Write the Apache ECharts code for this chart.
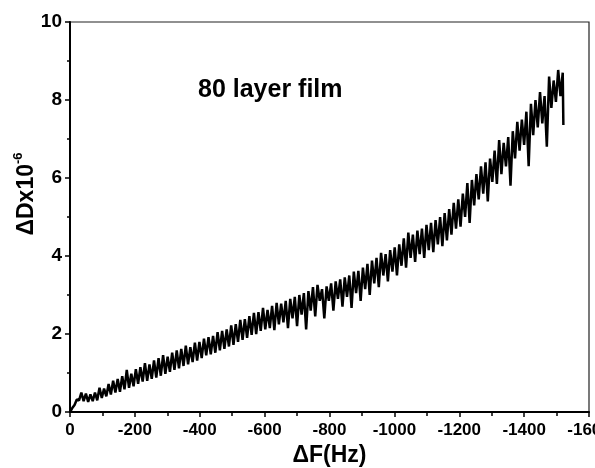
<!DOCTYPE html>
<html>
<head>
<meta charset="utf-8">
<script src="https://cdn.jsdelivr.net/npm/echarts@6/dist/echarts.min.js"></script>
<style>html,body{margin:0;padding:0;background:#fff;}#c{width:595px;height:468px;}</style>
</head>
<body>
<div id="c"></div>
<script>
var xTicks = [0,-200,-400,-600,-800,-1000,-1200,-1400,-1600];
var yTicks = [0,2,4,6,8,10];
var freqShift = [0,-7,-14,-21,-28,-35,-42,-49,-56,-63,
-70,-77,-84,-91,-98,-105,-112,-119,-126,-133,
-140,-147,-154,-161,-168,-175,-182,-189,-196,-203,
-210,-217,-224,-231,-238,-245,-252,-259,-266,-273,
-280,-287,-294,-301,-308,-315,-322,-329,-336,-343,
-350,-357,-364,-371,-378,-385,-392,-399,-406,-413,
-420,-427,-434,-441,-448,-455,-462,-469,-476,-483,
-490,-497,-504,-511,-518,-525,-532,-539,-546,-553,
-560,-567,-574,-581,-588,-595,-602,-609,-616,-623,
-630,-637,-644,-651,-658,-665,-672,-679,-686,-693,
-700,-707,-714,-721,-728,-735,-742,-749,-756,-763,
-770,-777,-784,-791,-798,-805,-812,-819,-826,-833,
-840,-847,-854,-861,-868,-875,-882,-889,-896,-903,
-910,-917,-924,-931,-938,-945,-952,-959,-966,-973,
-980,-987,-994,-1001,-1008,-1015,-1022,-1029,-1036,-1043,
-1050,-1057,-1064,-1071,-1078,-1085,-1092,-1099,-1106,-1113,
-1120,-1127,-1134,-1141,-1148,-1155,-1162,-1169,-1176,-1183,
-1190,-1197,-1204,-1211,-1218,-1225,-1232,-1239,-1246,-1253,
-1260,-1267,-1274,-1281,-1288,-1295,-1302,-1309,-1316,-1323,
-1330,-1337,-1344,-1351,-1358,-1365,-1372,-1379,-1386,-1393,
-1400,-1407,-1414,-1421,-1428,-1435,-1442,-1449,-1456,-1463,
-1470,-1477,-1484,-1491,-1498,-1505,-1512,-1519,-1521];
var dissipation = [0.0,0.1,0.18,0.32,0.3,0.5,0.28,0.47,0.26,0.45,
0.28,0.5,0.3,0.62,0.36,0.6,0.4,0.72,0.45,0.8,
0.5,0.85,0.52,0.92,0.58,1.08,0.62,0.98,0.66,1.1,
0.72,1.15,0.78,1.25,0.8,1.22,0.85,1.32,0.88,1.38,
0.93,1.46,0.98,1.42,1.03,1.52,1.08,1.58,1.12,1.62,
1.18,1.7,1.22,1.66,1.28,1.78,1.32,1.8,1.38,1.88,
1.45,1.92,1.48,1.95,1.52,2.05,1.58,2.08,1.62,2.12,
1.68,2.22,1.72,2.25,1.8,2.36,1.85,2.38,1.9,2.46,
1.98,2.54,2.0,2.56,2.08,2.67,2.12,2.62,2.15,2.72,
2.1,2.8,2.25,2.78,2.3,2.85,2.15,2.9,2.4,2.95,
2.2,3.0,2.5,3.05,2.12,3.1,2.6,3.2,2.45,3.26,
2.85,3.15,2.4,3.22,2.85,3.3,2.6,3.35,2.9,3.4,
2.7,3.45,2.95,3.5,2.67,3.6,3.05,3.62,2.85,3.7,
3.15,3.8,3.0,3.88,3.3,3.95,3.2,4.08,3.5,4.05,
3.35,4.15,3.6,4.22,3.5,4.3,3.75,4.45,3.7,4.6,
3.95,4.55,3.85,4.65,4.05,4.7,3.95,4.8,4.15,4.85,
4.1,4.92,4.3,5.0,4.25,5.1,4.4,5.2,4.55,5.36,
4.7,5.45,4.75,5.6,5.0,5.87,4.85,5.95,5.3,6.1,
5.45,6.3,5.6,6.4,5.4,6.5,5.9,6.7,5.85,6.97,
6.1,6.9,6.3,7.05,5.8,7.2,6.5,7.44,6.7,7.5,
6.85,7.7,6.3,7.9,7.1,8.0,7.3,8.2,7.4,8.1,
6.8,8.6,7.8,8.5,7.95,8.77,8.1,8.7,7.36];

var pairs = freqShift.map(function (x, i) { return [x, dissipation[i]]; });
var FONT = '"Liberation Sans", Arial, sans-serif';

var chart = echarts.init(document.getElementById('c'), null, {renderer: 'canvas'});
chart.setOption({
  animation: false,
  backgroundColor: '#fff',
  grid: {left: 70, right: 6, top: 22, bottom: 56, outerBoundsMode: 'none', containLabel: false,
    show: true, borderColor: '#222', borderWidth: 1.2, backgroundColor: 'transparent'},
  xAxis: {
    type: 'value', inverse: true,
    min: xTicks[xTicks.length - 1], max: xTicks[0], interval: 200,
    name: 'ΔF(Hz)', nameLocation: 'middle', nameGap: 31,
    nameTextStyle: {fontFamily: FONT, fontWeight: 'bold', fontSize: 23, color: '#000'},
    axisLine: {show: true, lineStyle: {color: '#000', width: 2}},
    axisTick: {show: true, inside: false, length: 5, lineStyle: {color: '#000', width: 1.5}},
    minorTick: {show: true, splitNumber: 2, length: 4, lineStyle: {color: '#000', width: 1.5}},
    splitLine: {show: false},
    axisLabel: {fontFamily: FONT, fontWeight: 'bold', fontSize: 17, color: '#000', margin: 10, showMaxLabel: true, showMinLabel: true,
      formatter: function (v) { return xTicks.indexOf(v) >= 0 ? String(v) : ''; }}
  },
  yAxis: {
    type: 'value', min: yTicks[0], max: yTicks[yTicks.length - 1], interval: 2,
    axisLine: {show: true, lineStyle: {color: '#000', width: 2}},
    axisTick: {show: true, inside: false, length: 5, lineStyle: {color: '#000', width: 1.5}},
    minorTick: {show: true, splitNumber: 2, length: 3, lineStyle: {color: '#000', width: 1.5}},
    splitLine: {show: false},
    axisLabel: {fontFamily: FONT, fontWeight: 'bold', fontSize: 19, color: '#000', margin: 8}
  },
  graphic: [
    {type: 'text', x: 25, y: 194, rotation: Math.PI / 2,
      style: {text: '{a|ΔDx10}{b|-6}', align: 'center', verticalAlign: 'middle',
        rich: {a: {fontFamily: FONT, fontWeight: 'bold', fontSize: 23, fill: '#000', lineHeight: 26, verticalAlign: 'bottom'},
               b: {fontFamily: FONT, fontWeight: 'bold', fontSize: 13, fill: '#000', lineHeight: 26, verticalAlign: 'top'}}}},
    {type: 'text', x: 198, y: 90,
      style: {text: '80 layer film', fontFamily: FONT, fontWeight: 'bold', fontSize: 25, fill: '#000', align: 'left', verticalAlign: 'middle'}}
  ],
  series: [{
    type: 'line', data: pairs, showSymbol: false, symbol: 'none',
    lineStyle: {color: '#000', width: 2.5}, clip: true
  }]
});
</script>
</body>
</html>
